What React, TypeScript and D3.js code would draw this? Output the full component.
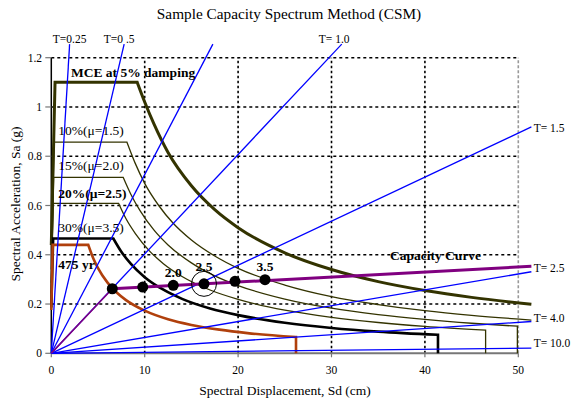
import React from 'react';
import * as d3 from 'd3';

// axis ticks
const xTicks = [0, 10, 20, 30, 40, 50];
const yTicks = [0, 0.2, 0.4, 0.6, 0.8, 1, 1.2];
const yTickLabels = ['0', '0.2', '0.4', '0.6', '0.8', '1', '1.2'];

// demand spectra (Sd cm, Sa g): start + plateau, then descending branch
const mceHead = [[0, 0.44], [0.4, 1.1], [9.2, 1.1]];
const mceTail = [[9.2, 1.1], [10, 1.02], [11, 0.93], [12.5, 0.815], [15, 0.68], [17.5, 0.583], [20, 0.51], [25, 0.408], [30, 0.34], [35, 0.291], [40, 0.255], [45, 0.227], [51.4, 0.199]];
const d10Head = [[0, 0.34], [0.3, 0.857], [8.1, 0.857]];
const d10Tail = [[8.1, 0.857], [9, 0.77], [10, 0.69], [11.5, 0.6], [13, 0.53], [15, 0.46], [17.5, 0.395], [20, 0.345], [25, 0.277], [30, 0.23], [35, 0.198], [40, 0.173], [45, 0.154], [51.4, 0.135]];
const d15Head = [[0, 0.286], [0.25, 0.714], [7.7, 0.714]];
const d15Tail = [[7.7, 0.714], [8.5, 0.647], [9.5, 0.579], [11, 0.5], [12.5, 0.44], [15, 0.367], [17.5, 0.314], [20, 0.275], [25, 0.22], [30, 0.183], [35, 0.157], [40, 0.1375], [45, 0.122], [49.9, 0.11]];
const d20Head = [[0, 0.244], [0.2, 0.609], [7.2, 0.609]];
const d20Tail = [[7.2, 0.609], [8, 0.546], [9, 0.486], [10.5, 0.416], [12, 0.364], [14, 0.312], [17, 0.257], [20, 0.219], [25, 0.175], [30, 0.146], [35, 0.125], [40, 0.109], [46.5, 0.094]];
const d30Head = [[0, 0.186], [0.2, 0.466], [6.64, 0.466]];
const d30Tail = [[6.64, 0.466], [7.5, 0.412], [8.5, 0.364], [10, 0.309], [12, 0.258], [14, 0.221], [17, 0.182], [20, 0.155], [25, 0.124], [30, 0.103], [35, 0.088], [41.4, 0.075]];
const yr475Head = [[0, 0.176], [0.15, 0.44], [3.96, 0.44]];
const yr475Tail = [[3.96, 0.44], [4.5, 0.385], [5, 0.346], [6, 0.288], [7, 0.247], [8, 0.216], [10, 0.173], [12.5, 0.138], [15, 0.115], [18, 0.096], [21, 0.082], [26.2, 0.066]];

// constant period lines from the origin: label and end point
const periodLabels = ['T=0.25', 'T=0 .5', '', 'T= 1.0', 'T= 1.5', 'T= 2.5', 'T= 4.0', 'T= 10.0'];
const periodEnds = [[1.96, 1.255], [7.8, 1.255], [17.3, 1.255], [31.1, 1.255], [51.4, 0.919], [51.4, 0.331], [51.4, 0.129], [51.4, 0.0207]];

// capacity curve and performance points
const capacity = [[0, 0], [6.53, 0.262], [51.4, 0.353]];
const dotSd = [6.53, 9.79, 13.06, 16.35, 19.67, 22.88];
const dotSa = [0.262, 0.269, 0.276, 0.282, 0.292, 0.299];
const dotLabels = ['', '', '2.0', '2.5', '', '3.5'];

const W = 571, H = 402;
const serif = '"Liberation Serif", "Times New Roman", serif';

export default function App() {
  const x = d3.scaleLinear().domain([0, 50]).range([51.3, 518.3]);
  const y = d3.scaleLinear().domain([0, 1.2]).range([353.3, 57.7]);
  const lin = d3.line<number[]>().x(d => x(d[0])).y(d => y(d[1]));
  const smooth = d3.line<number[]>().x(d => x(d[0])).y(d => y(d[1])).curve(d3.curveMonotoneX);

  const spectrum = (head: number[][], tail: number[][], drop: boolean) => {
    let p = lin(head) + (smooth(tail) || '').replace(/^M/, 'L');
    if (drop) {
      const last = tail[tail.length - 1];
      p += (lin([last, [last[0], 0]]) || '').replace(/^M/, 'L');
    }
    return p;
  };

  const spectra = [
    { d: spectrum(mceHead, mceTail, false), c: '#333300', w: 3 },
    { d: spectrum(d10Head, d10Tail, false), c: '#333300', w: 1.3 },
    { d: spectrum(d15Head, d15Tail, true), c: '#333300', w: 1.3 },
    { d: spectrum(d20Head, d20Tail, true), c: '#333300', w: 1.3 },
    { d: spectrum(d30Head, d30Tail, true), c: '#000000', w: 2.6 },
    { d: spectrum(yr475Head, yr475Tail, true), c: '#b0400c', w: 2.6 },
  ];

  // label offsets for period lines
  const pdx = [0, -5, 0, -7.6, 2.3, 2.3, 2.3, 2.3];
  const pdy = [0, 0, 0, 0, 5, 0, 0, -1];

  return (
    <svg width={W} height={H} style={{ position: 'absolute', left: 0, top: 0, background: '#fff' }}
      fontFamily={serif}>
      <rect width={W} height={H} fill="#fff" />
      <text x={289} y={19} textAnchor="middle" fontSize={15.3}>Sample Capacity Spectrum Method (CSM)</text>

      {/* grid */}
      {yTicks.filter(v => v > 0).map(v => (
        <line key={'gy' + v} x1={x(0)} x2={x(50)} y1={y(v)} y2={y(v)}
          stroke="#000" strokeWidth={1.6} strokeDasharray="3,3" />
      ))}
      {xTicks.filter(v => v > 0 && v < 50).map(v => (
        <line key={'gx' + v} x1={x(v)} x2={x(v)} y1={y(0)} y2={y(1.2)}
          stroke="#000" strokeWidth={1.6} strokeDasharray="2.5,2.5" />
      ))}
      <line x1={x(50)} x2={x(50)} y1={y(0)} y2={y(1.2)} stroke="#999" strokeWidth={1.6} strokeDasharray="3,2" />

      {/* axes */}
      <line x1={x(0)} x2={x(50)} y1={y(0)} y2={y(0)} stroke="#777" strokeWidth={2} />
      <line x1={x(0)} x2={x(0)} y1={y(0)} y2={y(1.2)} stroke="#000" strokeWidth={1.5} />
      {xTicks.map(v => (
        <g key={'xt' + v}>
          <line x1={x(v)} x2={x(v)} y1={y(0)} y2={y(0) + 4} stroke="#777" strokeWidth={1.2} />
          <text x={x(v)} y={374} textAnchor="middle" fontSize={11.5}>{v}</text>
        </g>
      ))}
      {yTicks.map((v, i) => (
        <g key={'yt' + v}>
          <line x1={x(0) - 6} x2={x(0)} y1={y(v)} y2={y(v)} stroke="#777" strokeWidth={1.2} />
          <text x={42} y={y(v)} dy="0.35em" textAnchor="end" fontSize={11.5}>{yTickLabels[i]}</text>
        </g>
      ))}
      <text x={285} y={395} textAnchor="middle" fontSize={13.5}>Spectral Displacement, Sd (cm)</text>
      <text transform="translate(20,204) rotate(-90)" textAnchor="middle" fontSize={13.5}>Spectral Acceleration, Sa (g)</text>

      {/* demand spectra */}
      {spectra.map((s, i) => (
        <path key={'sp' + i} d={s.d} fill="none" stroke={s.c} strokeWidth={s.w} strokeLinejoin="miter" />
      ))}

      {/* period lines */}
      {periodEnds.map((e, i) => (
        <line key={'pl' + i} x1={x(0)} y1={y(0)} x2={x(e[0])} y2={y(e[1])} stroke="#0000ff" strokeWidth={1.3} />
      ))}
      {periodEnds.map((e, i) => periodLabels[i] ? (
        <text key={'plt' + i} fontSize={11.5}
          x={x(e[0]) + pdx[i]} y={e[0] > 50 ? y(e[1]) + pdy[i] : 43.3}
          textAnchor={e[0] > 50 ? 'start' : 'middle'}>{periodLabels[i]}</text>
      ) : null)}

      {/* capacity curve */}
      <path d={lin(capacity.slice(0, 2)) || ''} fill="none" stroke="#800080" strokeWidth={1.6} />
      <path d={lin(capacity.slice(1)) || ''} fill="none" stroke="#800080" strokeWidth={3} />
      {dotSd.map((sd, i) => (
        <circle key={'dot' + i} cx={x(sd)} cy={y(dotSa[i])} r={5.5} fill="#000" />
      ))}
      <circle cx={x(dotSd[3])} cy={y(dotSa[3])} r={12.5} fill="none" stroke="#000" strokeWidth={1} />
      {dotSd.map((sd, i) => dotLabels[i] ? (
        <text key={'dl' + i} x={x(sd)} y={y(dotSa[i]) - (i === 3 ? 13 : 8.7)} textAnchor="middle"
          fontSize={13.5} fontWeight="bold">{dotLabels[i]}</text>
      ) : null)}

      {/* annotations */}
      <text x={71} y={76.7} fontSize={13.5} fontWeight="bold">MCE at 5% damping</text>
      <text x={58.3} y={135} fontSize={13.5}>10%(μ=1.5)</text>
      <text x={58.3} y={170} fontSize={13.5}>15%(μ=2.0)</text>
      <text x={58.3} y={198.3} fontSize={13.5} fontWeight="bold">20%(μ=2.5)</text>
      <text x={58.3} y={231.7} fontSize={13.5}>30%(μ=3.5)</text>
      <text x={58.3} y={269} fontSize={13.5} fontWeight="bold">475 yr</text>
      <text x={390} y={260} fontSize={13.5} fontWeight="bold">Capacity Curve</text>
    </svg>
  );
}
